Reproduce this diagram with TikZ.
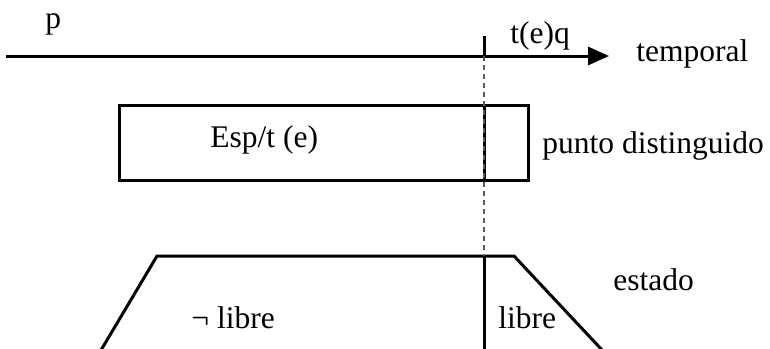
\documentclass[tikz,border=0pt]{standalone}
\usepackage{fontspec}
\setmainfont{Liberation Serif}
\usetikzlibrary{arrows.meta}
\begin{document}
\begin{tikzpicture}[x=0.5pt,y=-0.5pt,
  heavy/.style={line width=1.5pt},
  lbl/.style={inner sep=0pt, anchor=base west, font=\fontsize{15.75}{18}\selectfont},
  guide/.style={line width=0.6pt, draw=black!65, dash pattern=on 2.5pt off 2pt},
  band/.style={heavy, draw, inner sep=0pt, minimum width=204.5pt, minimum height=37.5pt}]
\useasboundingbox (0,0) rectangle (770,348);

% time axis with the instant t(e)
\coordinate (ax0) at (6,56);
\coordinate (ax1) at (609,56);
\coordinate (tick) at (484,56);
\coordinate (tickTop) at (484,36);
\draw[heavy, -{Triangle[length=10.5pt,width=9pt]}] (ax0) -- (ax1);
\draw[heavy] (tickTop) -- (tick);
\node[lbl] (p) at (45,28) {p};
\node[lbl] (teq) at (510,43) {t(e)q};
\node[lbl] (temporal) at (636,61) {temporal};

% distinguished point band
\node[band] (box) at (323.5,143) {};
\draw[heavy] (box.north -| tick) -- (box.south -| tick);
\node[lbl] (esp) at (210,147) {Esp/t (e)};
\node[lbl] (punto) at (542,153) {punto distinguido};

% state profile
\coordinate (bl) at (100.5,351);
\coordinate (tl) at (157,256);
\coordinate (tr) at (514,256);
\coordinate (br) at (603,351);
\coordinate (splitTop) at (484,256);
\coordinate (splitBot) at (484,351);
\draw[heavy, line join=miter] (bl) -- (tl) -- (tr) -- (br);
\draw[heavy] (splitTop) -- (splitBot);
\node[lbl] (estado) at (613,290) {estado};
\node[lbl] (nolibre) at (191,328) {¬ libre};
\node[lbl] (libre) at (498,328) {libre};

% dashed guide from the instant down to the state
\draw[guide] (tick) -- (splitTop);
\end{tikzpicture}
\end{document}
